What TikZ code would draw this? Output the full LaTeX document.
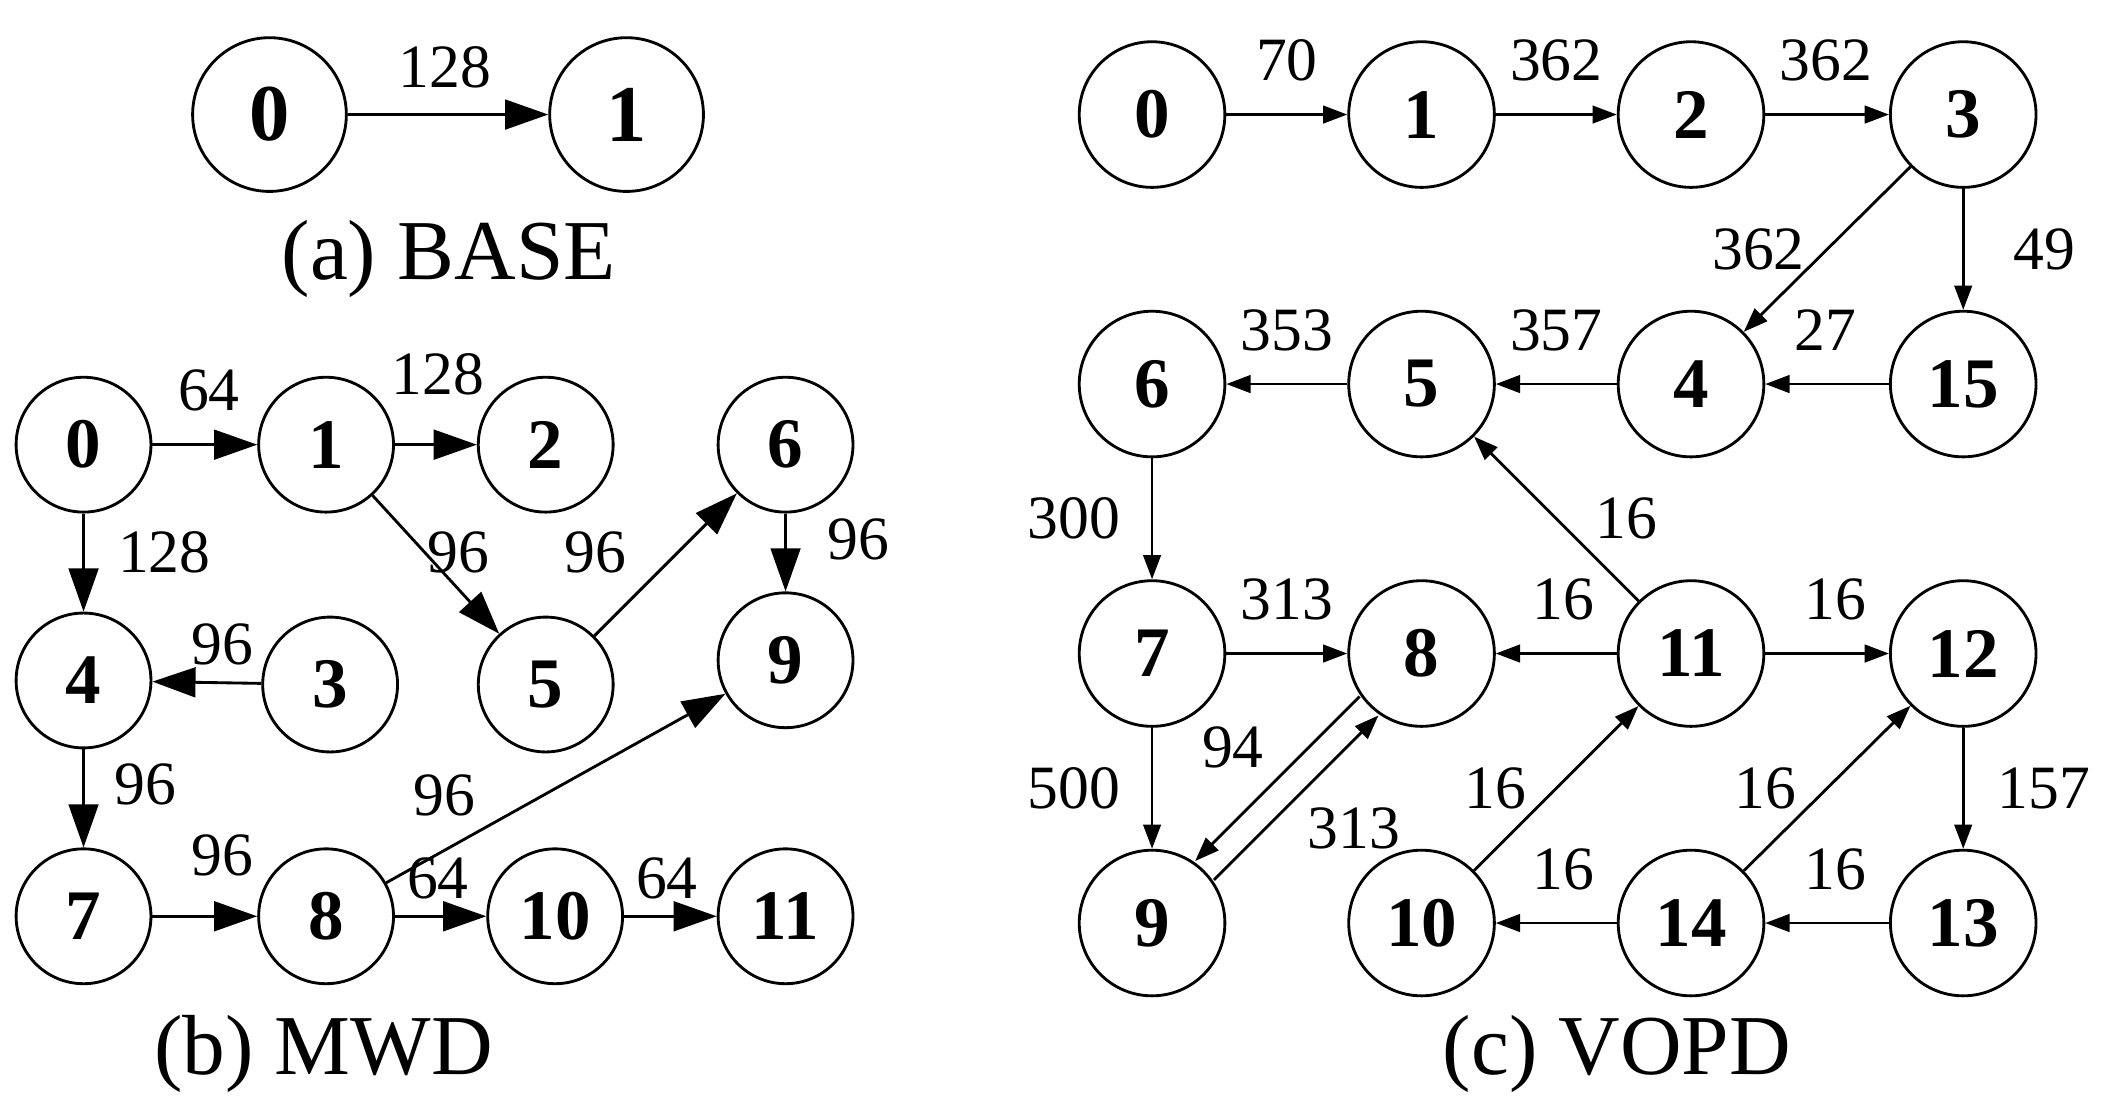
\documentclass[tikz,border=0pt]{standalone}
\usepackage{fontspec}
\setmainfont{Liberation Serif}
\usetikzlibrary{arrows.meta}
\begin{document}
\begin{tikzpicture}[x=0.01cm,y=-0.01cm,
 nd/.style={circle,draw,line width=0.6pt,minimum size=#1*0.02cm,inner sep=0pt,font=\fontsize{15}{15}\selectfont\bfseries},
 big/.style={-{Triangle[length=0.32cm,width=0.22cm]},line width=0.6pt},
 sm/.style={-{Triangle[length=0.18cm,width=0.13cm]},line width=0.6pt},
 lb/.style={font=\fontsize{13}{13}\selectfont},
 capt/.style={font=\fontsize{18}{18}\selectfont}]
\useasboundingbox (0,0) rectangle (1560,829);
% (a)
\node[nd=57,font=\fontsize{17}{17}\selectfont\bfseries] (a0) at (200,85) {0};
\node[nd=57,font=\fontsize{17}{17}\selectfont\bfseries] (a1) at (465,85) {1};
\draw[big] (a0) -- (a1);
\node[lb] at (330,50) {128};
\node[capt] at (333,192) {(a) BASE};
% (b)
\foreach \n/\x/\y in {0/62/330,1/242/330,2/405/330,6/583/330,4/62/505,3/245/508,5/405/508,9/583/490,7/62/680,8/242/680,10/412/680,11/583/680}
  \node[nd=50] (b\n) at (\x,\y) {\n};
\draw[big] (b0)--(b1); \node[lb] at (155,290) {64};
\draw[big] (b1)--(b2); \node[lb] at (325,278) {128};
\draw[big] (b0)--(b4); \node[lb] at (122,410) {128};
\draw[big] (b1)--(b5); \node[lb] at (340,410) {96};
\draw[big] (b5)--(b6); \node[lb] at (442,410) {96};
\draw[big] (b6)--(b9); \node[lb] at (637,400) {96};
\draw[big] (b3)--(b4); \node[lb] at (165,478) {96};
\draw[big] (b4)--(b7); \node[lb] at (108,582) {96};
\draw[big] (b7)--(b8); \node[lb] at (165,635) {96};
\draw[big] (b8)--(b9); \node[lb] at (330,590) {96};
\draw[big] (b8)--(b10); \node[lb] at (325,652) {64};
\draw[big] (b10)--(b11); \node[lb] at (495,652) {64};
\node[capt] at (240,782) {(b) MWD};
% (c)
\foreach \n/\x/\y in {0/855/85,1/1055/85,2/1255/85,3/1457/85,6/855/285,5/1055/285,4/1255/285,15/1457/285,7/855/485,8/1055/485,11/1255/485,12/1457/485,9/855/685,10/1055/685,14/1255/685,13/1457/685}
  \node[nd=54] (c\n) at (\x,\y) {\n};
\draw[sm] (c0)--(c1); \node[lb] at (955,45) {70};
\draw[sm] (c1)--(c2); \node[lb] at (1155,45) {362};
\draw[sm] (c2)--(c3); \node[lb] at (1355,45) {362};
\draw[sm] (c3)--(c4); \node[lb] at (1305,185) {362};
\draw[sm] (c3)--(c15); \node[lb] at (1517,185) {49};
\draw[sm] (c15)--(c4); \node[lb] at (1355,245) {27};
\draw[sm] (c4)--(c5); \node[lb] at (1155,245) {357};
\draw[sm] (c5)--(c6); \node[lb] at (955,245) {353};
\draw[sm] (c6)--(c7); \node[lb] at (797,385) {300};
\draw[sm] (c11)--(c5); \node[lb] at (1207,385) {16};
\draw[sm] (c7)--(c8); \node[lb] at (955,445) {313};
\draw[sm] (c11)--(c8); \node[lb] at (1160,445) {16};
\draw[sm] (c11)--(c12); \node[lb] at (1362,445) {16};
\draw[sm] (c7)--(c9); \node[lb] at (797,585) {500};
\draw[sm] ([shift={(-7,-7)}]c8.south west)--([shift={(-7,-7)}]c9.north east); \node[lb] at (915,555) {94};
\draw[sm] ([shift={(7,7)}]c9.north east)--([shift={(7,7)}]c8.south west); \node[lb] at (1005,615) {313};
\draw[sm] (c10)--(c11); \node[lb] at (1110,585) {16};
\draw[sm] (c14)--(c12); \node[lb] at (1310,585) {16};
\draw[sm] (c12)--(c13); \node[lb] at (1517,585) {157};
\draw[sm] (c13)--(c14); \node[lb] at (1362,645) {16};
\draw[sm] (c14)--(c10); \node[lb] at (1160,645) {16};
\node[capt] at (1200,782) {(c) VOPD};
\end{tikzpicture}
\end{document}
